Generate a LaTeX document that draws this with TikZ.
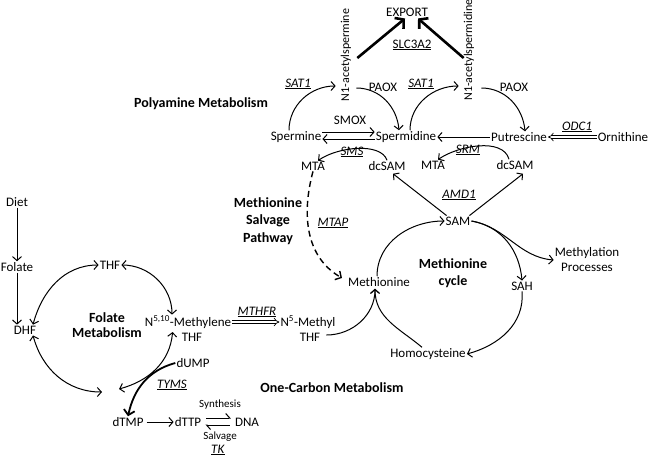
\documentclass[tikz,border=0pt]{standalone}
\usepackage{fontspec}
\setmainfont{Carlito}
\usetikzlibrary{arrows.meta,calc}
\newcommand{\enzname}[1]{\underline{\textit{#1}}}
\begin{document}
\begin{tikzpicture}[x=1pt,y=1pt,
  every node/.style={font=\fontsize{13}{15}\selectfont, inner sep=1pt, align=center},
  vert/.style={rotate=90, font=\fontsize{12}{14}\selectfont},
  lbl/.style={font=\fontsize{14}{17.5}\selectfont\bfseries},
  lbltight/.style={font=\fontsize{14}{14.5}\selectfont\bfseries},
  smalltxt/.style={font=\fontsize{11}{13}\selectfont},
  arr/.style={line width=1pt, -{Straight Barb[length=4pt,width=9pt]}},
  darr/.style={line width=1pt, {Straight Barb[length=4pt,width=9pt]}-{Straight Barb[length=4pt,width=9pt]}},
  heavy/.style={line width=2.6pt, -{Straight Barb[length=6pt,width=14pt]}},
  medarr/.style={line width=1.8pt, -{Straight Barb[length=5pt,width=11pt]}},
  dbl/.style={double, double distance=2.2pt, line width=0.7pt, -{Implies}},
  dashedarr/.style={line width=1.4pt, dash pattern=on 6pt off 4pt, -{Straight Barb[length=4.5pt,width=10pt]}},
  harpo/.style={line width=1pt, shorten <=4pt, shorten >=3pt, -{Straight Barb[left,length=4pt,width=9pt]}},
]
\useasboundingbox (0,0) rectangle (650,-459);

% ---------- nodes ----------
\node (export) at (407,-12) {EXPORT};
\node (slc) at (412,-45) {\underline{SLC3A2}};
\node[vert] (acspm) at (346,-55) {N1-acetylspermine};
\node[vert] (acspd) at (469,-50) {N1-acetylspermidine};
\node (sat1a) at (298,-84) {\enzname{SAT1}};
\node (paoxa) at (383,-87) {PAOX};
\node (sat1b) at (421,-84) {\enzname{SAT1}};
\node (paoxb) at (514,-87) {PAOX};
\node[lbl] (polya) at (201,-104) {Polyamine Metabolism};
\node (smox) at (350,-120) {SMOX};
\node (spm) at (296,-137) {Spermine};
\node (spd) at (406,-137) {Spermidine};
\node (put) at (519,-137) {Putrescine};
\node (orn) at (623,-137) {Ornithine};
\node (odc) at (577,-127) {\enzname{ODC1}};
\node (sms) at (352,-152) {\enzname{SMS}};
\node (srm) at (468,-150) {\enzname{SRM}};
\node (mta1) at (313,-166) {MTA};
\node (dcsam1) at (387,-166) {dcSAM};
\node (mta2) at (433,-165) {MTA};
\node (dcsam2) at (515,-165) {dcSAM};
\node (amd) at (459,-195) {\enzname{AMD1}};
\node (sam) at (458,-221) {SAM};
\node[lbl] (msp) at (268,-221) {Methionine\\Salvage\\Pathway};
\node (mtap) at (333,-223) {\enzname{MTAP}};
\node (methyl) at (587,-260) {Methylation\\Processes};
\node[lbl] (metcyc) at (453,-273) {Methionine\\cycle};
\node (met) at (379,-282) {Methionine};
\node (sah) at (522,-286) {SAH};
\node (hcy) at (428,-354) {Homocysteine};
\node (n5a) at (308,-322) {N\textsuperscript{5}-Methyl};
\node (n5b) at (310,-337) {THF};
\node (mthfr) at (257,-312) {\enzname{MTHFR}};
\node (n510) at (188,-322) {N\textsuperscript{5,10}-Methylene};
\node (thf2) at (192,-337) {THF};
\node[lbltight] (folmet) at (107,-325) {Folate\\Metabolism};
\node (diet) at (17,-202) {Diet};
\node (folate) at (17,-267) {Folate};
\node (dhf) at (25,-330) {DHF};
\node (thf1) at (110,-265) {THF};
\node (dump) at (193,-363) {dUMP};
\node (tyms) at (172,-385) {\enzname{TYMS}};
\node[lbl] (onec) at (332,-388) {One-Carbon Metabolism};
\node (dtmp) at (128,-422) {dTMP};
\node (dttp) at (188,-422) {dTTP};
\node (dna) at (247,-422) {DNA};
\node[smalltxt] (synth) at (220,-405) {Synthesis};
\node[smalltxt] (salv) at (220,-437) {Salvage};
\node (tk) at (218,-450) {\enzname{TK}};

\coordinate (tymsL) at (102,-392);
\coordinate (tymsR) at (119,-389);

% ---------- export ----------
\draw[heavy] ($(acspm.south)+(5,-3)$) -- ($(export.south)+(-2,-1)$);
\draw[heavy] ($(acspd.north)+(1,-8)$) -- ($(export.south)+(11,-1)$);

% ---------- SAT1 / PAOX ----------
\draw[arr] ($(spm.north)+(-7,0)$) to[out=90,in=180] ($(acspm.north)+(-4,-31)$);
\draw[arr] ($(acspm.south)+(4,-33)$) to[out=0,in=95] ($(spd.north)+(-7,0)$);
\draw[arr] ($(spd.north)+(4,0)$) to[out=90,in=180] ($(acspd.north)+(-4,-36)$);
\draw[arr] ($(acspd.south)+(6,-38)$) to[out=0,in=95] ($(put.north)+(6,0)$);

% ---------- polyamine conversions ----------
\draw[arr] ([yshift=5pt]spm.east) -- ([yshift=5pt]spd.west);
\draw[arr] ([yshift=-2pt]spd.west) -- ([yshift=-2pt]spm.east);
\draw[arr] (put.west) -- (spd.east);
\draw[dbl] (orn.west) -- (put.east);

\draw[arr] (dcsam1.north) .. controls +(-6,18) and +(20,14) .. ($(mta1.north)+(5,0)$);
\draw[arr] ($(dcsam2.north)+(-6,0)$) .. controls +(-6,22) and +(20,14) .. ($(mta2.north)+(5,0)$);

\draw[arr] ($(sam.north west)+(2,0)$) -- ($(dcsam1.south)+(6,-2)$);
\draw[arr] ($(sam.north east)+(-2,0)$) -- ($(dcsam2.south)+(8,-3)$);

% ---------- salvage ----------
\draw[dashedarr] (mta1.south) to[out=255,in=150] ($(met.west)+(-5,4)$);

% ---------- methionine cycle ----------
\draw[arr] ($(met.north)+(-2,0)$) to[out=90,in=180] (sam.west);
\draw[arr] (sam.east) to[out=-10,in=95] (sah.north);
\draw[arr] (sam.east) to[out=-10,in=175] (methyl.west);
\draw[arr] (sah.south) to[out=-85,in=15] (hcy.east);
\draw[arr] ($(hcy.north)+(-6,0)$) to[out=140,in=-90] ($(met.south)+(-4,-1)$);
\draw[arr] ($(n5b.east)+(5,2)$) to[out=0,in=-90] ($(met.south)+(-4,-1)$);

% ---------- folate ----------
\draw[dbl] (n510.east) -- (n5a.west);
\draw[arr] (diet.south) -- (folate.north);
\draw[arr] (folate.south) -- (folate.south |- dhf.north);
\draw[darr] ($(dhf.north)+(8,0)$) to[out=75,in=180] (thf1.west);
\draw[darr] (thf1.east) to[out=0,in=90] ($(n510.north)+(-16,0)$);
\draw[darr] ($(dhf.south)+(8,0)$) to[out=-75,in=180] (tymsL);
\draw[darr] ($(thf2.west)+(-8,5)$) to[out=-95,in=15] (tymsR);
\draw[medarr] (dump.west) to[out=195,in=78] (dtmp.north);
\draw[arr, shorten <=2pt] (dtmp.east) -- (dttp.west);
\draw[harpo] ([yshift=4pt]dttp.east) -- ([yshift=4pt]dna.west);
\draw[harpo] ([yshift=-3pt]dna.west) -- ([yshift=-3pt]dttp.east);
\end{tikzpicture}
\end{document}
